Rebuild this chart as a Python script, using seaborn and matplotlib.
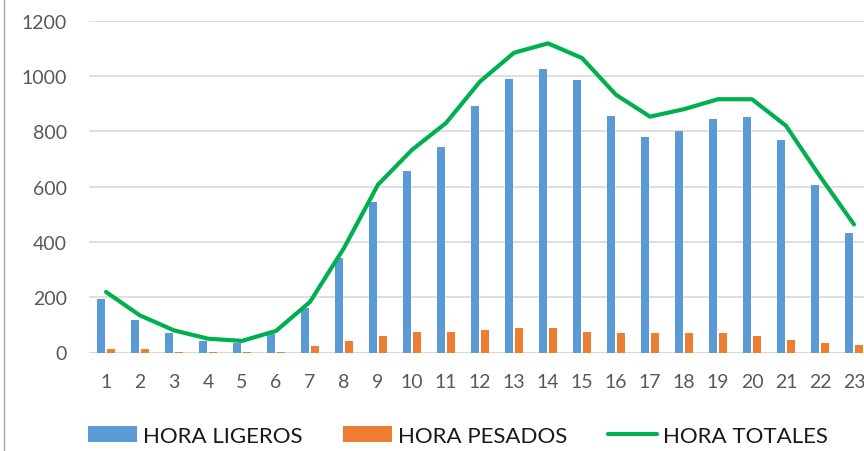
import numpy as np
import pandas as pd
import matplotlib
matplotlib.use("Agg")
import matplotlib.pyplot as plt
import seaborn as sns
from matplotlib.patches import Patch
from matplotlib.lines import Line2D

hours = [str(h) for h in range(1, 24)]
ligeros = [195, 119, 71, 42, 35, 68, 161, 340, 543, 655, 745, 893, 990, 1025,
           984, 857, 781, 802, 844, 851, 767, 606, 432]
pesados = [14, 13, 3, 2, 2, 3, 22, 40, 61, 75, 75, 82, 88, 88,
           75, 69, 69, 69, 69, 61, 46, 33, 26]
totales = [219, 134, 80, 50, 42, 78, 183, 378, 607, 733, 830, 980, 1084, 1118,
           1065, 932, 853, 880, 916, 916, 820, 637, 463]
y_ticks = [0, 200, 400, 600, 800, 1000, 1200]
series_names = ["HORA LIGEROS", "HORA PESADOS", "HORA TOTALES"]

BLUE = "#5B9BD5"
ORANGE = "#ED7D31"
GREEN = "#00B050"
GRID = "#D9D9D9"
TEXT = "#595959"

sns.set_theme(style="white")
plt.rcParams["font.family"] = ["Lato", "DejaVu Sans"]

W, H = 864, 452
fig = plt.figure(figsize=(W / 100, H / 100), dpi=100)
left_px, zero_px, top_px = 89, 353.5, 21.7
ax = fig.add_axes([left_px / W, (H - zero_px) / H, (W - left_px) / W, (zero_px - top_px) / H])

df = pd.DataFrame({
    "hora": hours + hours,
    "valor": ligeros + pesados,
    "serie": [series_names[0]] * len(hours) + [series_names[1]] * len(hours),
})
sns.barplot(data=df, x="hora", y="valor", hue="serie", order=hours,
            hue_order=series_names[:2], palette=[BLUE, ORANGE],
            width=0.59, gap=0.2, ax=ax, legend=False, saturation=1,
            edgecolor="none")
sns.lineplot(x=np.arange(len(hours)), y=totales, color=GREEN, linewidth=3,
             ax=ax, legend=False)

ax.set_xlim(-0.5, -0.5 + (W - left_px) / 34.0)
ax.set_ylim(0, 1200)
ax.set_yticks(y_ticks)
ax.set_yticklabels([str(v) for v in y_ticks])
ax.set_axisbelow(True)
ax.yaxis.grid(True, color=GRID, linewidth=1.2)
ax.xaxis.grid(False)
for s in ax.spines.values():
    s.set_visible(False)
ax.axhline(0, color=GRID, linewidth=1.5, zorder=0.5)
ax.set_xlabel("")
ax.set_ylabel("")
ax.tick_params(axis="both", length=0, colors=TEXT, labelsize=14)
ax.tick_params(axis="y", pad=16)
ax.tick_params(axis="x", pad=15)

handles = [Patch(facecolor=BLUE, edgecolor="none"),
           Patch(facecolor=ORANGE, edgecolor="none"),
           Line2D([], [], color=GREEN, linewidth=3)]
fig.legend(handles, series_names, loc="center", bbox_to_anchor=(458 / W, 15 / H),
           ncol=3, frameon=False, fontsize=16, handlelength=2.2,
           handleheight=0.73, handletextpad=0.3, columnspacing=1.8,
           labelcolor="#1a1a1a")

fig.add_artist(Line2D([4 / W, 4 / W], [0, 1], transform=fig.transFigure,
                      color="#A6A6A6", linewidth=1))

fig.savefig("out.png", dpi=100)
